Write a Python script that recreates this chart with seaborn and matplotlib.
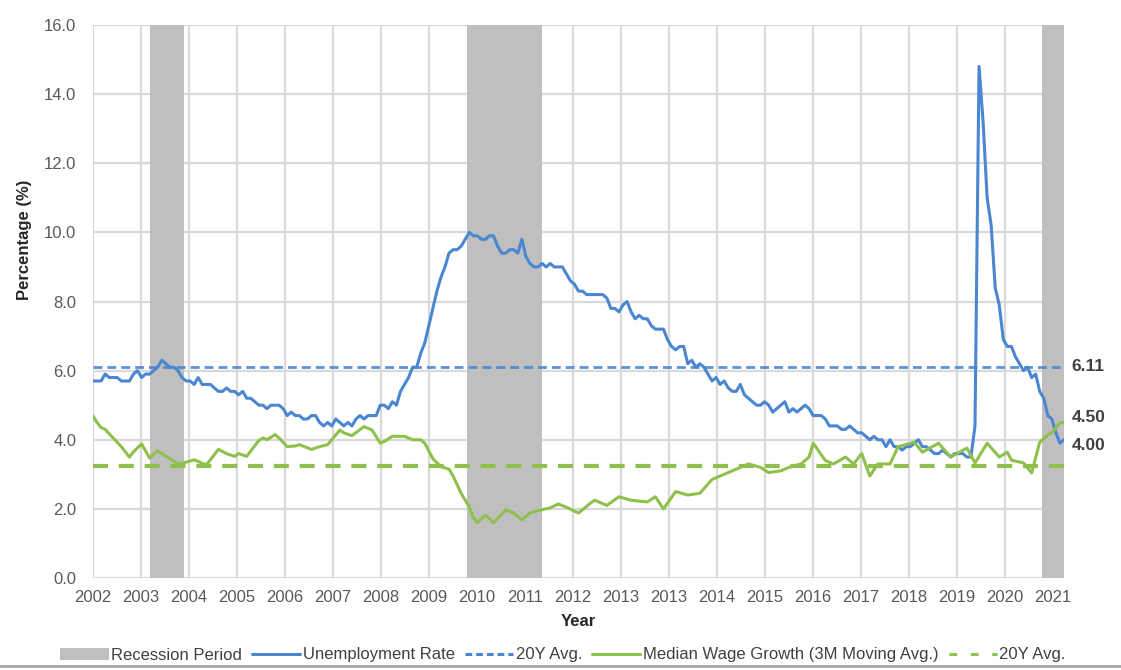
import numpy as np
import pandas as pd
import matplotlib
matplotlib.use("Agg")
import matplotlib.pyplot as plt
from matplotlib.lines import Line2D
from matplotlib.patches import Patch
import seaborn as sns

# ---------------- data ----------------
# x axis: months since Jan 2002 (0 .. 240 = Jan 2022)
x_tick_labels = ["2002", "2003", "2004", "2005", "2006", "2007", "2008", "2009",
                 "2010", "2011", "2012", "2013", "2013", "2014", "2015", "2016",
                 "2017", "2018", "2019", "2020", "2021"]

unemp_2002 = [5.7, 5.7, 5.7, 5.9, 5.8, 5.8, 5.8, 5.7, 5.7, 5.7, 5.9, 6.0]
unemp_2003 = [5.8, 5.9, 5.9, 6.0, 6.1, 6.3, 6.2, 6.1, 6.1, 6.0, 5.8, 5.7]
unemp_2004 = [5.7, 5.6, 5.8, 5.6, 5.6, 5.6, 5.5, 5.4, 5.4, 5.5, 5.4, 5.4]
unemp_2005 = [5.3, 5.4, 5.2, 5.2, 5.1, 5.0, 5.0, 4.9, 5.0, 5.0, 5.0, 4.9]
unemp_2006 = [4.7, 4.8, 4.7, 4.7, 4.6, 4.6, 4.7, 4.7, 4.5, 4.4, 4.5, 4.4]
unemp_2007 = [4.6, 4.5, 4.4, 4.5, 4.4, 4.6, 4.7, 4.6, 4.7, 4.7, 4.7, 5.0]
unemp_2008 = [5.0, 4.9, 5.1, 5.0, 5.4, 5.6, 5.8, 6.1, 6.1, 6.5, 6.8, 7.3]
unemp_2009 = [7.8, 8.3, 8.7, 9.0, 9.4, 9.5, 9.5, 9.6, 9.8, 10.0, 9.9, 9.9]
unemp_2010 = [9.8, 9.8, 9.9, 9.9, 9.6, 9.4, 9.4, 9.5, 9.5, 9.4, 9.8, 9.3]
unemp_2011 = [9.1, 9.0, 9.0, 9.1, 9.0, 9.1, 9.0, 9.0, 9.0, 8.8, 8.6, 8.5]
unemp_2012 = [8.3, 8.3, 8.2, 8.2, 8.2, 8.2, 8.2, 8.1, 7.8, 7.8, 7.7, 7.9]
unemp_2013 = [8.0, 7.7, 7.5, 7.6, 7.5, 7.5, 7.3, 7.2, 7.2, 7.2, 6.9, 6.7]
unemp_2014 = [6.6, 6.7, 6.7, 6.2, 6.3, 6.1, 6.2, 6.1, 5.9, 5.7, 5.8, 5.6]
unemp_2015 = [5.7, 5.5, 5.4, 5.4, 5.6, 5.3, 5.2, 5.1, 5.0, 5.0, 5.1, 5.0]
unemp_2016 = [4.8, 4.9, 5.0, 5.1, 4.8, 4.9, 4.8, 4.9, 5.0, 4.9, 4.7, 4.7]
unemp_2017 = [4.7, 4.6, 4.4, 4.4, 4.4, 4.3, 4.3, 4.4, 4.3, 4.2, 4.2, 4.1]
unemp_2018 = [4.0, 4.1, 4.0, 4.0, 3.8, 4.0, 3.8, 3.8, 3.7, 3.8, 3.8, 3.9]
unemp_2019 = [4.0, 3.8, 3.8, 3.7, 3.6, 3.6, 3.7, 3.6, 3.5, 3.6, 3.6, 3.6]
unemp_2020 = [3.5, 3.5, 4.4, 14.8, 13.2, 11.0, 10.2, 8.4, 7.9, 6.9, 6.7, 6.7]
unemp_2021 = [6.4, 6.2, 6.0, 6.1, 5.8, 5.9, 5.4, 5.2, 4.7, 4.6, 4.2, 3.9]
unemp_2022 = [4.0]

wage_month = [0, 1, 2, 3, 5, 7, 9, 10, 12, 14, 16, 17, 19, 21, 23, 25, 28, 31, 33, 35,
              36, 38, 41, 42, 43, 45, 46, 48, 50, 51, 54, 56, 58, 61, 62, 64, 67, 69, 71, 72,
              74, 77, 79, 81, 82, 84, 86, 88, 89, 91, 93, 94, 95, 97, 99, 102, 104, 106, 108, 110,
              113, 115, 117, 120, 123, 124, 127, 130, 133, 137, 139, 141, 144, 147, 150, 153, 156, 160, 162, 165,
              167, 170, 172, 175, 177, 178, 181, 183, 186, 188, 190, 192, 194, 197, 199, 203, 205, 209, 212, 216,
              218, 221, 224, 226, 227, 230, 232, 234, 236, 237, 239, 240]
wage_value = [4.69, 4.50, 4.35, 4.30, 4.05, 3.80, 3.50, 3.65, 3.88, 3.47, 3.68, 3.60, 3.45, 3.30, 3.35, 3.42, 3.27, 3.72, 3.60, 3.52,
              3.60, 3.52, 3.98, 4.05, 4.00, 4.15, 4.05, 3.80, 3.82, 3.86, 3.72, 3.80, 3.86, 4.28, 4.20, 4.12, 4.38, 4.28, 3.90, 3.95,
              4.10, 4.10, 4.00, 4.00, 3.90, 3.45, 3.22, 3.15, 2.95, 2.45, 2.05, 1.75, 1.60, 1.82, 1.60, 1.97, 1.88, 1.68, 1.88, 1.95,
              2.03, 2.14, 2.05, 1.88, 2.17, 2.25, 2.10, 2.35, 2.25, 2.20, 2.35, 2.00, 2.50, 2.40, 2.45, 2.85, 3.00, 3.20, 3.30, 3.20,
              3.05, 3.10, 3.20, 3.30, 3.50, 3.90, 3.40, 3.30, 3.50, 3.30, 3.60, 2.95, 3.30, 3.30, 3.80, 3.93, 3.64, 3.90, 3.50, 3.76,
              3.33, 3.90, 3.50, 3.64, 3.41, 3.33, 3.04, 3.93, 4.14, 4.20, 4.49, 4.50]

unemp_avg = 6.11
wage_avg = 3.24
recession_start = [14.0, 92.5, 234.5]
recession_end = [22.5, 111.0, 240.0]
label_unemp_avg = "6.11"
label_wage_last = "4.50"
label_unemp_last = "4.00"

unemp_values = (unemp_2002 + unemp_2003 + unemp_2004 + unemp_2005 + unemp_2006 + unemp_2007 +
                unemp_2008 + unemp_2009 + unemp_2010 + unemp_2011 + unemp_2012 + unemp_2013 +
                unemp_2014 + unemp_2015 + unemp_2016 + unemp_2017 + unemp_2018 + unemp_2019 +
                unemp_2020 + unemp_2021 + unemp_2022)
unemp_df = pd.DataFrame({"month": np.arange(len(unemp_values)), "value": unemp_values})
wage_df = pd.DataFrame({"month": wage_month, "value": wage_value})

# ---------------- style ----------------
sns.set_style("white")
plt.rcParams["font.family"] = ["Liberation Sans", "DejaVu Sans"]

BLUE = "#4A86D2"
GREEN = "#8FC04C"
GREY_BAND = "#BFBFBF"
GRID = "#D9D9D9"
TXT = "#595959"
TICK_STEP = 11.86  # months between axis labels

fig = plt.figure(figsize=(11.21, 6.70), dpi=100)
ax = fig.add_axes([93 / 1121, 1 - 578 / 670, (1064 - 93) / 1121, (578 - 25) / 670])

# recession bands
for s, e in zip(recession_start, recession_end):
    ax.axvspan(s, e, color=GREY_BAND, lw=0, zorder=1)

# lines
sns.lineplot(data=unemp_df, x="month", y="value", ax=ax, color=BLUE, lw=2.2, zorder=4)
ax.axhline(unemp_avg, xmin=0, xmax=1, color=BLUE, lw=2.0, dashes=(3.2, 1.8), zorder=3, alpha=0.9)
sns.lineplot(data=wage_df, x="month", y="value", ax=ax, color=GREEN, lw=2.2, zorder=5)
ax.axhline(wage_avg, color=GREEN, lw=3.0, dashes=(3.6, 2.6), zorder=3)

ax.set_xlim(0, 240)
ax.set_ylim(0, 16)
ax.set_xticks(np.arange(len(x_tick_labels)) * TICK_STEP)
ax.set_xticklabels(x_tick_labels)
ax.set_yticks(np.arange(0, 17, 2))
ax.set_yticklabels([f"{v:.1f}" for v in np.arange(0, 17, 2)])
ax.tick_params(axis="both", length=0, labelsize=12, colors=TXT)
ax.tick_params(axis="x", pad=9)
ax.tick_params(axis="y", pad=12)
ax.grid(True, color=GRID, lw=1.6, zorder=0)
ax.set_axisbelow(True)
for sp in ax.spines.values():
    sp.set_visible(False)
ax.set_xlabel("")
ax.set_ylabel("")

fig.text(578 / 1121, 1 - 622 / 670, "Year", ha="center", va="center",
         fontsize=12, fontweight="bold", color="#262626")
fig.text(25 / 1121, 1 - 240 / 670, "Percentage (%)", ha="center", va="center",
         rotation=90, fontsize=12, fontweight="bold", color="#262626")

# value labels at right
trans = ax.get_yaxis_transform()
ax.text(1.008, unemp_avg, label_unemp_avg, transform=trans, ha="left", va="center",
        fontsize=12.5, fontweight="bold", color="#404040")
ax.text(1.008, 4.63, label_wage_last, transform=trans, ha="left", va="center",
        fontsize=12.5, fontweight="bold", color="#404040")
ax.text(1.008, 3.84, label_unemp_last, transform=trans, ha="left", va="center",
        fontsize=12.5, fontweight="bold", color="#404040")

# legend
handles = [
    Patch(facecolor=GREY_BAND, edgecolor="none"),
    Line2D([], [], color=BLUE, lw=2.2),
    Line2D([], [], color=BLUE, lw=2.2, dashes=(2.2, 1.3)),
    Line2D([], [], color=GREEN, lw=2.2),
    Line2D([], [], color=GREEN, lw=2.2, dashes=(2.5, 4.5)),
]
labels = ["Recession Period", "Unemployment Rate", "20Y Avg.",
          "Median Wage Growth (3M Moving Avg.)", "20Y Avg."]
fig.legend(handles, labels, loc="center", bbox_to_anchor=(563 / 1121, 1 - 655 / 670),
           ncol=5, frameon=False, fontsize=12, handlelength=2.9, handleheight=0.7,
           handletextpad=0.15, columnspacing=0.6, labelcolor="#404040")

fig.add_artist(Line2D([0, 1], [1 - 666 / 670] * 2, transform=fig.transFigure,
                      color="#A6A6A6", lw=2))

fig.savefig("out.png", dpi=100)
